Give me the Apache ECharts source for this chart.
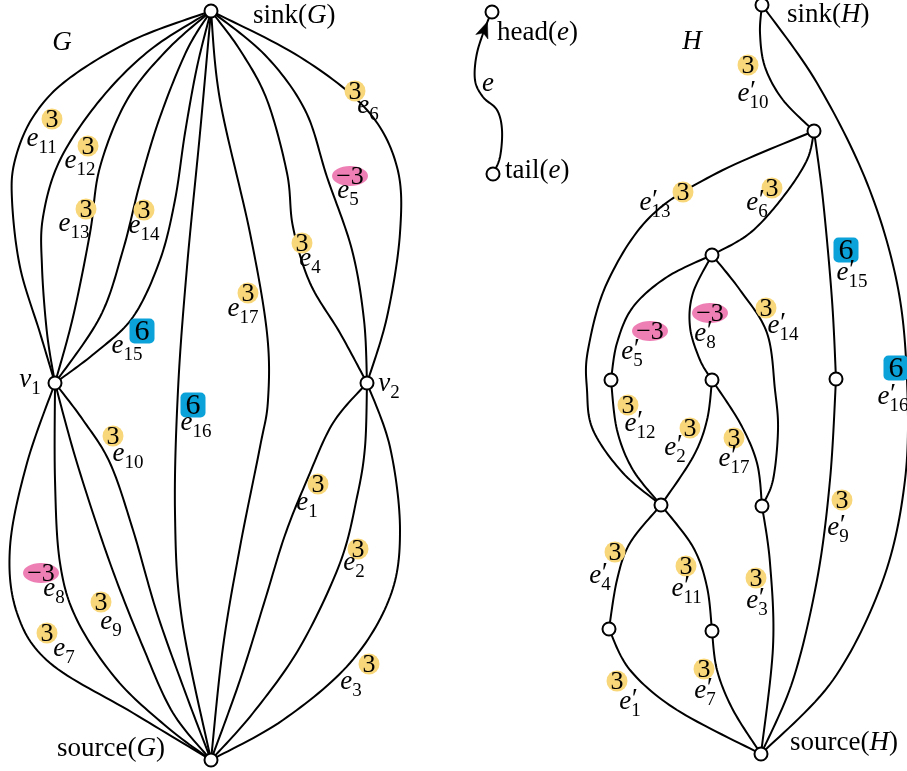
<!DOCTYPE html>
<html><head><meta charset="utf-8">
<script src="https://cdn.jsdelivr.net/npm/echarts@6/dist/echarts.min.js"></script>
<style>html,body{margin:0;padding:0;background:#fff}#c{width:907px;height:771px}</style>
</head><body><div id="c"></div>
<script>
// ---------- data ----------
const nodeIds = ['sinkG','v1','v2','sourceG','sinkH','a','b','c','d','f','g','h','i','j','sourceH','tail','head'];
const nodeX   = [211, 55, 367, 211, 762, 814, 712, 611, 712, 836, 661, 762, 609, 712, 761, 493, 492];
const nodeY   = [ 11, 383, 383, 760,   5, 131, 255, 380, 380, 379, 505, 506, 629, 631, 754, 174,  12];

const edgeNames  = ['e_1','e_2','e_3','e_4','e_5','e_6','e_7','e_8','e_9','e_10','e_11','e_12','e_13','e_14','e_15','e_16','e_17',
                    "e'_1","e'_2","e'_3","e'_4","e'_5","e'_6","e'_7","e'_8","e'_9","e'_10","e'_11","e'_12","e'_13","e'_14","e'_15","e'_16","e'_17"];
const edgeFrom   = ['v2','v2','v2','sinkG','sinkG','sinkG','v1','v1','v1','v1','sinkG','sinkG','sinkG','sinkG','sinkG','sinkG','sinkG',
                    'i','d','h','g','b','a','j','b','f','sinkH','g','c','a','b','a','sinkH','d'];
const edgeTo     = ['sourceG','sourceG','sourceG','v2','v2','v2','sourceG','sourceG','sourceG','sourceG','v1','v1','v1','v1','v1','sourceG','sourceG',
                    'sourceH','g','sourceH','i','c','b','sourceH','d','sourceH','a','j','g','g','h','f','sourceH','h'];
const edgeVia = [
  [[333,423],[307,480],[285,535],[265,600],[240,680]],
  [[365,447],[357,497],[340,563],[300,647],[253,713]],
  [[390,447],[400,530],[390,597],[350,663],[283,720]],
  [[240,50],[267,100],[287,173],[293,227],[310,283],[340,333]],
  [[265,55],[305,110],[327,177],[352,250],[364,320]],
  [[300,57],[367,110],[397,167],[400,233],[387,317]],
  [[27,463],[10,547],[17,613],[50,663],[133,713]],
  [[55,480],[60,563],[77,620],[117,680],[167,727]],
  [[77,463],[110,563],[143,647],[173,713]],
  [[83,420],[110,463],[133,530],[157,613],[187,697]],
  [[133,40],[67,80],[33,117],[15,160],[12,200],[20,267],[40,333]],
  [[150,50],[100,100],[60,160],[43,217],[42,267],[47,333]],
  [[167,50],[127,100],[100,167],[90,233],[73,317]],
  [[187,50],[160,117],[140,183],[123,250],[100,317]],
  [[197,67],[185,133],[175,200],[160,260],[133,317],[95,353]],
  [[200,133],[187,267],[178,390],[175,513],[182,620]],
  [[220,100],[250,233],[267,333],[268,400],[260,447],[240,547],[223,647]],
  [[630,670],[677,710]],
  [[707,420],[693,457]],
  [[770,563],[773,647]],
  [[630,543],[617,580]],
  [[667,277],[633,307],[617,343]],
  [[807,160],[783,197],[750,233]],
  [[717,670],[733,710]],
  [[693,293],[690,327],[700,360]],
  [[830,480],[817,580],[793,680]],
  [[760,33],[765,67],[783,100]],
  [[693,547],[707,587]],
  [[617,430],[633,470]],
  [[717,173],[650,217],[607,283],[588,350],[587,390],[593,430],[623,473]],
  [[740,290],[767,333],[775,390],[778,430],[773,480]],
  [[823,200],[832,300]],
  [[817,83],[867,183],[897,283],[907,380],[905,480],[883,580],[833,680]],
  [[740,423],[757,463]]
];
const edgeWeight = [3,3,3,3,-3,3,3,-3,3,3,3,3,3,3,6,6,3,
                    3,3,3,3,-3,3,3,-3,3,3,3,3,3,3,6,6,3];
const badgeAt = [[318,484],[358,549],[369,664],[302,243],[350,176],[355,91],[47,633],[41,573],[101,602],[113,436],[52,119],[88,146],[86,209],[144,210],[142,331],[193,405],[248,293],
                 [617,681],[690,428],[756,578],[615,552],[650,331],[772,188],[704,669],[710,313],[842,500],[748,65],[686,566],[628,405],[683,192],[766,308],[846,250],[896,368],[734,438]];
const labelAt = [[307,507],[354,567],[351,686],[310,263],[348,195],[368,110],[64,653],[54,593],[111,626],[128,458],[42,143],[80,165],[74,228],[144,230],[127,350],[196,427],[243,313],
                 [630,706],[675,452],[757,605],[600,580],[632,356],[757,207],[705,695],[705,338],[838,532],[753,98],[687,593],[640,428],[655,207],[783,330],[852,277],[893,401],[734,463]];

// example edge in the key (tail -> head)
const keyVia = [[500,157],[502,130],[497,110],[483,97],[475,80],[477,53],[487,23]];

// node symbols with subscripts
const symNames = ['v_1','v_2'];
const symAt    = [[30,384],[389,388]];

// plain texts
const textStr   = ['{i|G}','{i|H}','{r|sink(}{i|G}{r|)}','{r|source(}{i|G}{r|)}','{r|sink(}{i|H}{r|)}','{r|source(}{i|H}{r|)}',
                   '{r|head(}{i|e}{r|)}','{r|tail(}{i|e}{r|)}','{i|e}'];
const textAt    = [[62,43],[692,42],[253,16],[165,749],[787,15],[790,743],[497,33],[505,171],[488,84]];
const textAlign = ['center','center','left','right','left','left','left','left','center'];

// ---------- helpers ----------
const SERIF = '"Liberation Serif", "Times New Roman", serif';
function nodePt(id){ const k = nodeIds.indexOf(id); return [nodeX[k], nodeY[k]]; }
function catmull(pts, n){
  const out = [];
  for (let i = 0; i < pts.length - 1; i++){
    const p0 = pts[Math.max(i-1,0)], p1 = pts[i], p2 = pts[i+1], p3 = pts[Math.min(i+2, pts.length-1)];
    for (let k = 0; k < n; k++){
      const t = k/n, t2 = t*t, t3 = t2*t;
      const f = (a,b,c,d) => 0.5*((2*b) + (-a+c)*t + (2*a-5*b+4*c-d)*t2 + (-a+3*b-3*c+d)*t3);
      out.push([f(p0[0],p1[0],p2[0],p3[0]), f(p0[1],p1[1],p2[1],p3[1])]);
    }
  }
  out.push(pts[pts.length-1]);
  return out;
}
function mathLabel(name, c){
  const m = name.match(/^([a-z])('?)_(\d+)$/);
  const base = m[1], prime = m[2] === "'", sub = m[3];
  const eW = 12, subW = sub.length * 9.5;
  const left = c[0] - (eW + subW) / 2;
  const ch = [
    {type:'text', x:left, y:c[1]-4, style:{text:base, font:'italic 27px ' + SERIF, fill:'#000', align:'left', verticalAlign:'middle'}},
    {type:'text', x:left+eW, y:c[1]+5, style:{text:sub, font:'19px ' + SERIF, fill:'#000', align:'left', verticalAlign:'middle'}}
  ];
  if (prime) ch.push({type:'text', x:left+eW-1, y:c[1]-6, style:{text:'\u2032', font:'italic 27px ' + SERIF, fill:'#000', align:'left', verticalAlign:'middle'}});
  return ch;
}

const chart = echarts.init(document.getElementById('c'), null, {renderer:'canvas'});
const idx = edgeNames.map((_, i) => [i]);

chart.setOption({
  animation: false,
  backgroundColor: '#fff',
  grid: {left:0, right:0, top:0, bottom:0},
  xAxis: {type:'value', min:0, max:907, show:false},
  yAxis: {type:'value', min:0, max:771, inverse:true, show:false},
  series: [
    { // edges
      type:'custom', z:1, silent:true, data: idx,
      renderItem(params, api){
        const i = api.value(0);
        const pts = [nodePt(edgeFrom[i]), ...edgeVia[i], nodePt(edgeTo[i])].map(p => api.coord(p));
        return {type:'polyline', shape:{points: catmull(pts, 16)}, style:{stroke:'#000', lineWidth:2, fill:null}};
      }
    },
    { // key edge with arrow
      type:'custom', z:2, silent:true, data:[[0]],
      renderItem(params, api){
        const pts = [nodePt('tail'), ...keyVia, nodePt('head')].map(p => api.coord(p));
        const line = catmull(pts, 16);
        const h = line[line.length-1];
        let k = line.length - 1;
        while (k > 0 && Math.hypot(line[k][0]-h[0], line[k][1]-h[1]) < 10) k--;
        const tip = line[k];
        let j = k;
        while (j > 0 && Math.hypot(line[j][0]-tip[0], line[j][1]-tip[1]) < 14) j--;
        const back = line[j];
        const dx = tip[0]-back[0], dy = tip[1]-back[1], L = Math.hypot(dx,dy);
        const ux = dx/L, uy = dy/L, px = -uy, py = ux;
        const bl = 16, bw = 6.5;
        const arrow = [tip, [tip[0]-ux*bl+px*bw, tip[1]-uy*bl+py*bw], [tip[0]-ux*bl*0.75, tip[1]-uy*bl*0.75], [tip[0]-ux*bl-px*bw, tip[1]-uy*bl-py*bw]];
        return {type:'group', children:[
          {type:'polyline', shape:{points: line}, style:{stroke:'#000', lineWidth:2, fill:null}},
          {type:'polygon', z2:5, shape:{points: arrow}, style:{fill:'#000', stroke:'#000', lineWidth:0.5}}
        ]};
      }
    },
    { // weight badges
      type:'custom', z:3, silent:true, data: idx,
      renderItem(params, api){
        const i = api.value(0);
        const c = api.coord(badgeAt[i]);
        const w = edgeWeight[i];
        let bg, txt, size = 26;
        if (w === 6){
          bg = {type:'rect', shape:{x:c[0]-12.5, y:c[1]-12.5, width:25, height:25, r:5}, style:{fill:'#0aa2d9'}};
          txt = '6'; size = 30;
        } else if (w < 0){
          bg = {type:'ellipse', shape:{cx:c[0], cy:c[1], rx:18, ry:10}, style:{fill:'#ee7fb5'}};
          txt = '\u2212' + Math.abs(w);
        } else {
          bg = {type:'circle', shape:{cx:c[0], cy:c[1], r:10.5}, style:{fill:'#f8d77a'}};
          txt = String(w);
        }
        return {type:'group', children:[bg,
          {type:'text', x:c[0], y:c[1]+1, style:{text:txt, font: size + 'px ' + SERIF, fill:'#000', align:'center', verticalAlign:'middle'}}]};
      }
    },
    { // edge labels
      type:'custom', z:3, silent:true, data: idx,
      renderItem(params, api){
        const i = api.value(0);
        return {type:'group', children: mathLabel(edgeNames[i], api.coord(labelAt[i]))};
      }
    },
    { // node symbols v1, v2
      type:'custom', z:3, silent:true, data: symNames.map((_, i) => [i]),
      renderItem(params, api){
        const i = api.value(0);
        return {type:'group', children: mathLabel(symNames[i], api.coord(symAt[i]))};
      }
    },
    { // plain texts
      type:'custom', z:3, silent:true, data: textStr.map((_, i) => [i]),
      renderItem(params, api){
        const i = api.value(0);
        const c = api.coord(textAt[i]);
        return {type:'text', x:c[0], y:c[1], style:{
          text: textStr[i], align: textAlign[i], verticalAlign:'middle',
          rich: {
            r: {fontFamily: SERIF, fontSize: 27, fill:'#000'},
            i: {fontFamily: SERIF, fontSize: 27, fontStyle:'italic', fill:'#000'}
          }
        }};
      }
    },
    { // nodes
      type:'scatter', z:5, silent:true, symbol:'circle', symbolSize:13,
      itemStyle:{color:'#ffffff', borderColor:'#000000', borderWidth:2, opacity:1},
      data: nodeX.map((x, i) => [x, nodeY[i]])
    }
  ]
});
</script>
</body></html>
